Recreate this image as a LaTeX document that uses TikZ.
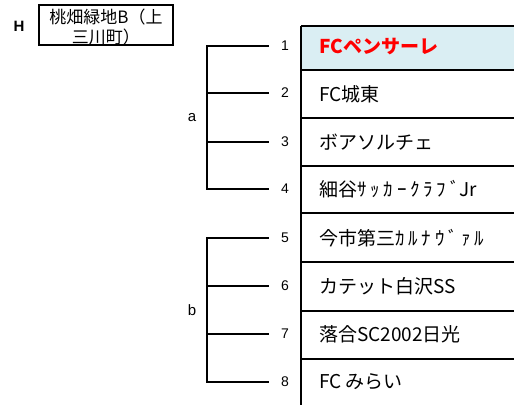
\documentclass[tikz,border=0pt]{standalone}
\usepackage{fontspec}
\newfontfamily\jpfont{Noto Sans CJK JP}
\newfontfamily\jphalf{Noto Sans CJK JP}[LetterSpace=20]
\newfontfamily\arialfont{Liberation Sans}
\definecolor{rowblue}{RGB}{218,238,243}
\definecolor{teamred}{RGB}{255,0,0}

\begin{document}
\begin{tikzpicture}[x=1pt, y=-1pt,
  num/.style={font=\arialfont\fontsize{14}{16}\selectfont, inner xsep=12pt, inner ysep=0pt},
  grp/.style={font=\arialfont\fontsize{15}{17}\selectfont},
  team/.style={anchor=west, font=\jpfont\fontsize{19}{22}\selectfont, inner sep=0pt},
  bracket/.style={draw=black, line width=1.5pt},
  grid/.style={draw=black, line width=1.3pt}]
\useasboundingbox (0,0) rectangle (514,405);
% header
\node[font=\arialfont\bfseries\fontsize{15}{17}\selectfont] (H) at (19,26) {H};
\node[draw=black, line width=1.3pt, minimum width=134pt, minimum height=40pt, inner sep=0pt] (hdr) at (106,25) {};
\node[align=center, inner sep=0pt, font=\jpfont\fontsize{17}{20}\selectfont] (hdrtxt) at (106,27) {桃畑緑地B（上\\三川町）};
% table
\fill[rowblue] (301,26) rectangle (514,70);
\foreach \y in {26,70,118,166,213,262,311,359}
  \draw[grid] (301,\y) -- (514,\y);
\draw[grid] (301,26) -- (301,405);
\node[team, text=teamred, font=\jpfont\bfseries\fontsize{19}{22}\selectfont] (t1) at (319,47) {FCペンサーレ};
\node[team] (t2) at (319,94) {FC城東};
\node[team] (t3) at (319,142) {ボアソルチェ};
\node[team] (t4) at (319,189) {細谷{\jphalf ｻｯｶｰｸﾗﾌﾞ}Jr};
\node[team] (t5) at (319,238) {今市第三{\jphalf ｶﾙﾅｳﾞｧﾙ}};
\node[team] (t6) at (319,286) {カテット白沢SS};
\node[team] (t7) at (319,334) {落合SC2002日光};
\node[team] (t8) at (319,382) {FC みらい};
% numbers
\node[num] (n1) at (285,46) {1};
\node[num] (n2) at (285,93) {2};
\node[num] (n3) at (285,142) {3};
\node[num] (n4) at (285,189) {4};
\node[num] (n5) at (285,238) {5};
\node[num] (n6) at (285,286) {6};
\node[num] (n7) at (285,334) {7};
\node[num] (n8) at (285,382) {8};
% brackets
\coordinate (a1) at (207,46);
\coordinate (a2) at (207,93);
\coordinate (a3) at (207,142);
\coordinate (a4) at (207,189);
\coordinate (b1) at (207,238);
\coordinate (b2) at (207,286);
\coordinate (b3) at (207,334);
\coordinate (b4) at (207,382);
\draw[bracket] (n1.west) -- (a1) -- (a4) -- (n4.west);
\draw[bracket] (a2) -- (n2.west);
\draw[bracket] (a3) -- (n3.west);
\draw[bracket] (n5.west) -- (b1) -- (b4) -- (n8.west);
\draw[bracket] (b2) -- (n6.west);
\draw[bracket] (b3) -- (n7.west);
\node[grp] (ga) at (192,118) {a};
\node[grp] (gb) at (192,310) {b};
\end{tikzpicture}
\end{document}
